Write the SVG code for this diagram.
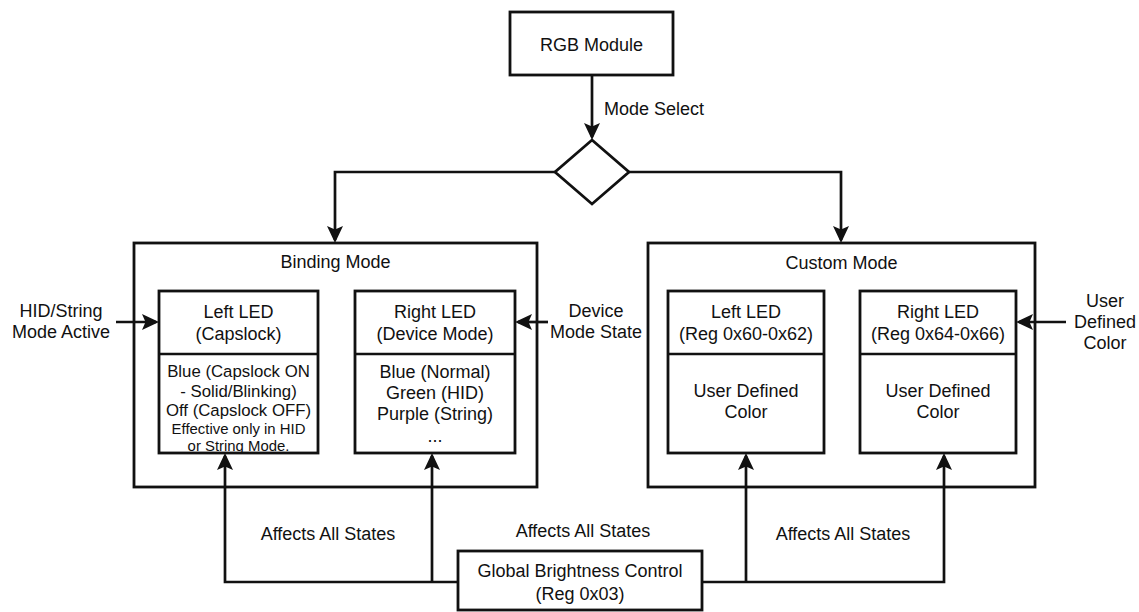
<svg xmlns="http://www.w3.org/2000/svg" width="1139" height="612" viewBox="0 0 1139 612">
<style>
.box{fill:#fff;stroke:#111;stroke-width:2.8}
.ln{fill:none;stroke:#111;stroke-width:2.7}
text{font-family:"Liberation Sans",Arial,Helvetica,sans-serif;fill:#111;font-size:18px}
.c{text-anchor:middle}
.s16{font-size:16.8px}
.s15{font-size:14.9px}
</style>
<defs>
<marker id="ah" viewBox="0 0 17 16" markerWidth="17" markerHeight="16" markerUnits="userSpaceOnUse" refX="14" refY="8" orient="auto">
<path d="M0,0 L17,8 L0,16 L3.5,8 Z" fill="#111"/>
</marker>
</defs>
<rect width="1139" height="612" fill="#fff"/>

<g id="rgb-module">
<rect class="box" x="510" y="12" width="163" height="63"/>
<text class="c" x="591.5" y="51">RGB Module</text>
</g>

<g id="mode-select-label">
<text x="604" y="115">Mode Select</text>
</g>

<g id="decision">
<polygon class="box" points="592,140 629,172 592,204 555,172"/>
</g>

<g id="binding-mode">
<rect class="box" x="134" y="243" width="403" height="244"/>
<text class="c" x="335.5" y="268">Binding Mode</text>
</g>

<g id="binding-left-led">
<rect class="box" x="159" y="291" width="159" height="162"/>
<line class="ln" x1="159" y1="354" x2="318" y2="354"/>
<text class="c" x="238.5" y="318">Left LED</text>
<text class="c" x="238.5" y="340">(Capslock)</text>
<text class="c s16" x="238.5" y="377">Blue (Capslock ON</text>
<text class="c s16" x="238.5" y="397">- Solid/Blinking)</text>
<text class="c s16" x="238.5" y="416">Off (Capslock OFF)</text>
<text class="c s15" x="238.5" y="434">Effective only in HID</text>
<text class="c s15" x="238.5" y="451">or String Mode.</text>
</g>

<g id="binding-right-led">
<rect class="box" x="355" y="291" width="160" height="162"/>
<line class="ln" x1="355" y1="354" x2="515" y2="354"/>
<text class="c" x="435" y="318">Right LED</text>
<text class="c" x="435" y="340">(Device Mode)</text>
<text class="c" x="435" y="378">Blue (Normal)</text>
<text class="c" x="435" y="399">Green (HID)</text>
<text class="c" x="435" y="420">Purple (String)</text>
<text class="c" x="435" y="442">...</text>
</g>

<g id="custom-mode">
<rect class="box" x="648" y="243" width="387" height="244"/>
<text class="c" x="841.5" y="269">Custom Mode</text>
</g>

<g id="custom-left-led">
<rect class="box" x="668" y="291" width="156" height="162"/>
<line class="ln" x1="668" y1="354" x2="824" y2="354"/>
<text class="c" x="746" y="318">Left LED</text>
<text class="c" x="746" y="340">(Reg 0x60-0x62)</text>
<text class="c" x="746" y="397">User Defined</text>
<text class="c" x="746" y="418">Color</text>
</g>

<g id="custom-right-led">
<rect class="box" x="860" y="291" width="156" height="162"/>
<line class="ln" x1="860" y1="354" x2="1016" y2="354"/>
<text class="c" x="938" y="318">Right LED</text>
<text class="c" x="938" y="340">(Reg 0x64-0x66)</text>
<text class="c" x="938" y="397">User Defined</text>
<text class="c" x="938" y="418">Color</text>
</g>

<g id="hid-string-input">
<text class="c" x="61" y="317">HID/String</text>
<text class="c" x="61" y="338">Mode Active</text>
</g>

<g id="device-mode-state-input">
<text class="c" x="596" y="317">Device</text>
<text class="c" x="596" y="338">Mode State</text>
</g>

<g id="user-defined-color-input">
<text class="c" x="1105" y="307">User</text>
<text class="c" x="1105" y="328">Defined</text>
<text class="c" x="1105" y="349">Color</text>
</g>

<g id="global-brightness">
<rect class="box" x="458" y="551" width="244" height="59"/>
<text class="c" x="580" y="577">Global Brightness Control</text>
<text class="c" x="580" y="600">(Reg 0x03)</text>
</g>

<g id="affects-labels">
<text class="c" x="328" y="540">Affects All States</text>
<text class="c" x="583" y="537">Affects All States</text>
<text class="c" x="843" y="540">Affects All States</text>
</g>

<g id="connectors">
<path class="ln" d="M592,75 V137" marker-end="url(#ah)"/>
<path class="ln" d="M555,172 H335 V240" marker-end="url(#ah)"/>
<path class="ln" d="M629,172 H841 V240" marker-end="url(#ah)"/>
<path class="ln" d="M116,322 H156" marker-end="url(#ah)"/>
<path class="ln" d="M548,322 H518" marker-end="url(#ah)"/>
<path class="ln" d="M1066,322 H1019" marker-end="url(#ah)"/>
<path class="ln" d="M458,582 H225 V456" marker-end="url(#ah)"/>
<path class="ln" d="M432,582 V456" marker-end="url(#ah)"/>
<path class="ln" d="M702,582 H944 V456" marker-end="url(#ah)"/>
<path class="ln" d="M746,582 V456" marker-end="url(#ah)"/>
</g>
</svg>
